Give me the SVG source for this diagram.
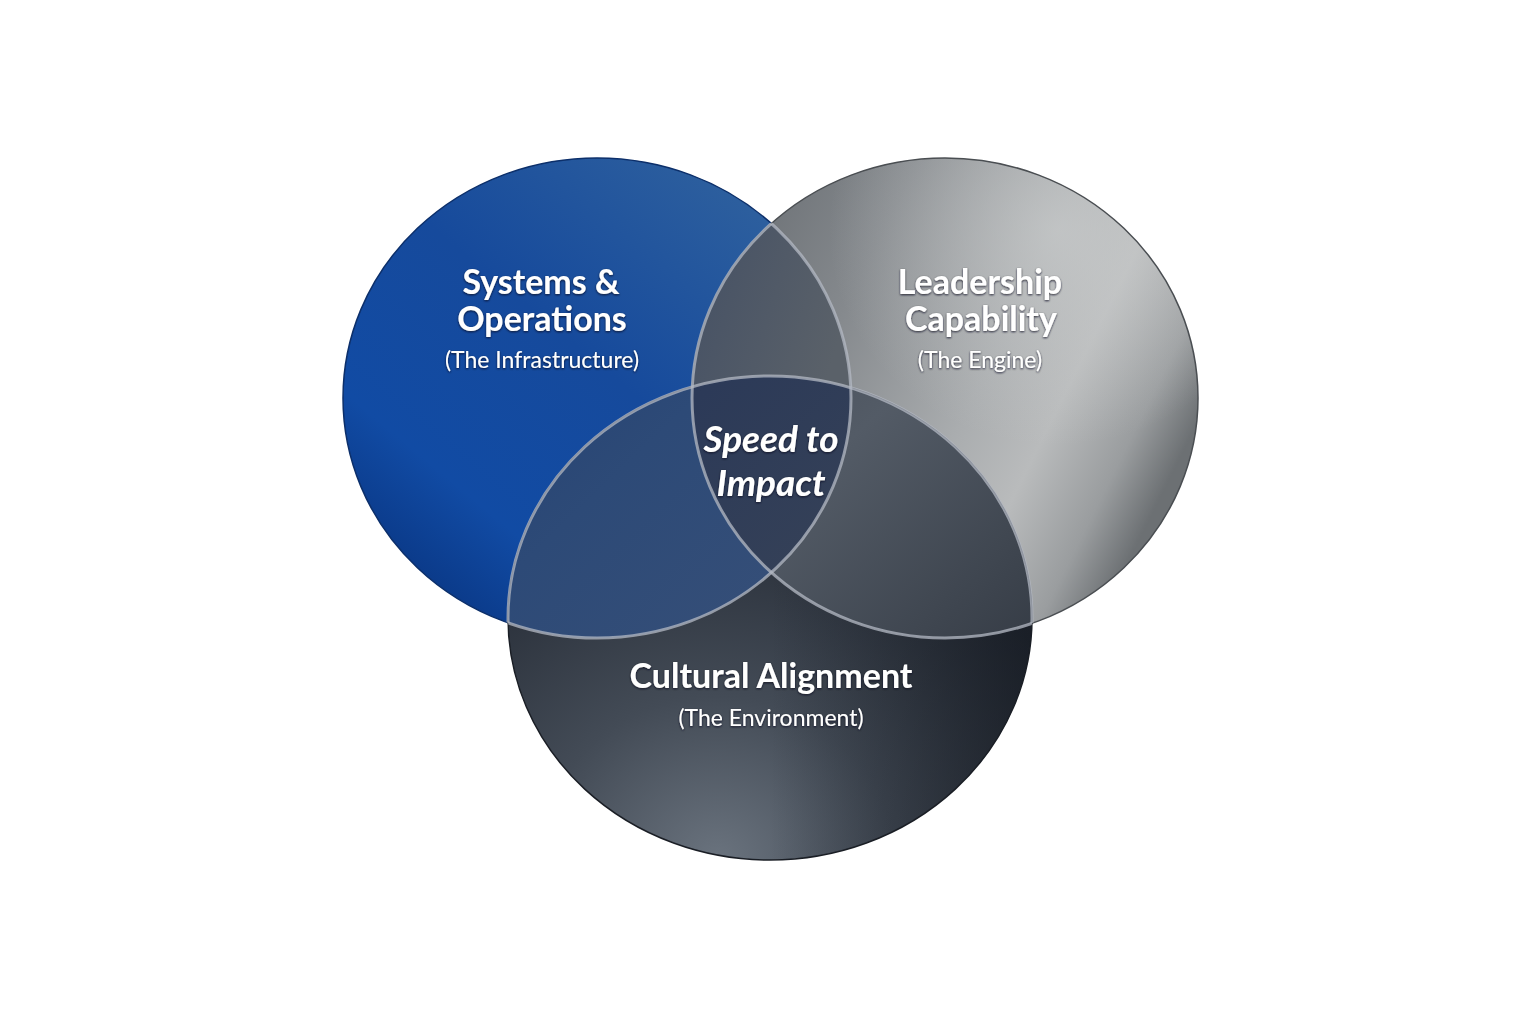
<svg xmlns="http://www.w3.org/2000/svg" width="1536" height="1024" viewBox="0 0 1536 1024">
<defs>
  <style>
    .title{font-family:Lato,"Open Sans","Liberation Sans",sans-serif;font-weight:700;fill:#ffffff;text-anchor:middle;font-size:34px}
    .sub{font-family:Lato,"Open Sans","Liberation Sans",sans-serif;font-weight:400;fill:#ffffff;text-anchor:middle;font-size:23px}
    .center{font-family:Lato,"Open Sans","Liberation Sans",sans-serif;font-weight:700;font-style:italic;fill:#ffffff;text-anchor:middle;font-size:37px}
    .txt{filter:url(#shadow)}
    .inner{fill:none;stroke:#b4bac4;stroke-opacity:0.75;stroke-width:3}
    .outer{fill:none;stroke-width:1.5}
  </style>
  <filter id="shadow" x="-20%" y="-40%" width="140%" height="180%">
    <feDropShadow dx="0" dy="1" stdDeviation="1.2" flood-color="#0a1020" flood-opacity="0.85"/>
  </filter>
  <ellipse id="eBlue" cx="597" cy="398" rx="254" ry="240"/>
  <ellipse id="eGray" cx="945" cy="398" rx="253" ry="240"/>
  <ellipse id="eDark" cx="770" cy="618" rx="262" ry="242"/>
  <clipPath id="cBlue"><use href="#eBlue"/></clipPath>
  <clipPath id="cGray"><use href="#eGray"/></clipPath>
  <clipPath id="cDark"><use href="#eDark"/></clipPath>
  <clipPath id="cGrayDark"><use href="#eGray"/><use href="#eDark"/></clipPath>
  <clipPath id="cBlueDark"><use href="#eBlue"/><use href="#eDark"/></clipPath>
  <clipPath id="cBlueGray"><use href="#eBlue"/><use href="#eGray"/></clipPath>
  <linearGradient id="gBlue" x1="0.85" y1="0.1" x2="0.15" y2="0.9">
    <stop offset="0" stop-color="#2e609e"/>
    <stop offset="0.45" stop-color="#164a9c"/>
    <stop offset="0.8" stop-color="#114ba4"/>
    <stop offset="1" stop-color="#0a3886"/>
  </linearGradient>
  <linearGradient id="gGray" x1="0.05" y1="0.1" x2="1" y2="0.55">
    <stop offset="0" stop-color="#686d72"/>
    <stop offset="0.3" stop-color="#85898d"/>
    <stop offset="0.6" stop-color="#aaadaf"/>
    <stop offset="0.75" stop-color="#b9bbbc"/>
    <stop offset="0.9" stop-color="#9a9d9f"/>
    <stop offset="1" stop-color="#6c7073"/>
  </linearGradient>
  <radialGradient id="gGrayHi" cx="0.72" cy="0.15" r="0.45">
    <stop offset="0" stop-color="#d0d2d2" stop-opacity="0.6"/>
    <stop offset="1" stop-color="#d0d2d2" stop-opacity="0"/>
  </radialGradient>
  <radialGradient id="gDark" cx="0.4" cy="1.0" r="0.75">
    <stop offset="0" stop-color="#6a737e"/>
    <stop offset="0.45" stop-color="#434b56"/>
    <stop offset="1" stop-color="#252b35"/>
  </radialGradient>
  <linearGradient id="gDarkShade" x1="0" y1="0" x2="1" y2="0">
    <stop offset="0.5" stop-color="#11151c" stop-opacity="0"/>
    <stop offset="1" stop-color="#11151c" stop-opacity="0.55"/>
  </linearGradient>
  <linearGradient id="gBD" x1="0" y1="0" x2="1" y2="1">
    <stop offset="0" stop-color="#1a356a"/>
    <stop offset="0.6" stop-color="#2d4a77"/>
    <stop offset="1" stop-color="#385078"/>
  </linearGradient>
  <linearGradient id="gGD" x1="0" y1="0" x2="1" y2="1">
    <stop offset="0" stop-color="#394049"/>
    <stop offset="0.45" stop-color="#535b66"/>
    <stop offset="1" stop-color="#2a3039"/>
  </linearGradient>
  <linearGradient id="gBG" x1="0" y1="0" x2="1" y2="0.3">
    <stop offset="0" stop-color="#2b4372"/>
    <stop offset="0.5" stop-color="#3a4862"/>
    <stop offset="1" stop-color="#5a6169"/>
  </linearGradient>
  <linearGradient id="gC" x1="0" y1="0" x2="1" y2="1">
    <stop offset="0" stop-color="#243455"/>
    <stop offset="0.6" stop-color="#2c3a58"/>
    <stop offset="1" stop-color="#384357"/>
  </linearGradient>
</defs>
<rect width="1536" height="1024" fill="#ffffff"/>

<g id="node-systems">
  <use href="#eBlue" fill="url(#gBlue)"/>
  <use href="#eBlue" class="outer" stroke="#0c2f6a"/>
</g>
<g id="node-leadership">
  <use href="#eGray" fill="url(#gGray)"/>
  <use href="#eGray" fill="url(#gGrayHi)"/>
  <use href="#eGray" class="outer" stroke="#4a4e52"/>
</g>
<g id="node-culture">
  <use href="#eDark" fill="url(#gDark)"/>
  <use href="#eDark" fill="url(#gDarkShade)"/>
  <use href="#eDark" class="outer" stroke="#1a1e25"/>
</g>

<g id="overlaps">
  <g clip-path="url(#cDark)"><use href="#eBlue" fill="url(#gBD)"/></g>
  <g clip-path="url(#cDark)"><use href="#eGray" fill="url(#gGD)"/></g>
  <g clip-path="url(#cGray)"><use href="#eBlue" fill="url(#gBG)"/></g>
  <g clip-path="url(#cDark)"><g clip-path="url(#cGray)"><use href="#eBlue" fill="url(#gC)"/></g></g>
</g>

<g id="connectors">
  <g clip-path="url(#cGrayDark)"><use href="#eBlue" class="inner"/></g>
  <g clip-path="url(#cBlueDark)"><use href="#eGray" class="inner"/></g>
  <g clip-path="url(#cBlueGray)"><use href="#eDark" class="inner"/></g>
</g>

<g id="label-systems" class="txt">
  <text class="title" x="541" y="294">Systems &amp;</text>
  <text class="title" x="542" y="331">Operations</text>
  <text class="sub" x="542" y="368">(The Infrastructure)</text>
</g>
<g id="label-leadership" class="txt">
  <text class="title" x="980" y="294">Leadership</text>
  <text class="title" x="981" y="331">Capability</text>
  <text class="sub" x="980" y="368">(The Engine)</text>
</g>
<g id="label-center" class="txt">
  <text class="center" x="771" y="452">Speed to</text>
  <text class="center" x="771" y="496">Impact</text>
</g>
<g id="label-culture" class="txt">
  <text class="title" x="771" y="688">Cultural Alignment</text>
  <text class="sub" x="771" y="726">(The Environment)</text>
</g>
</svg>
